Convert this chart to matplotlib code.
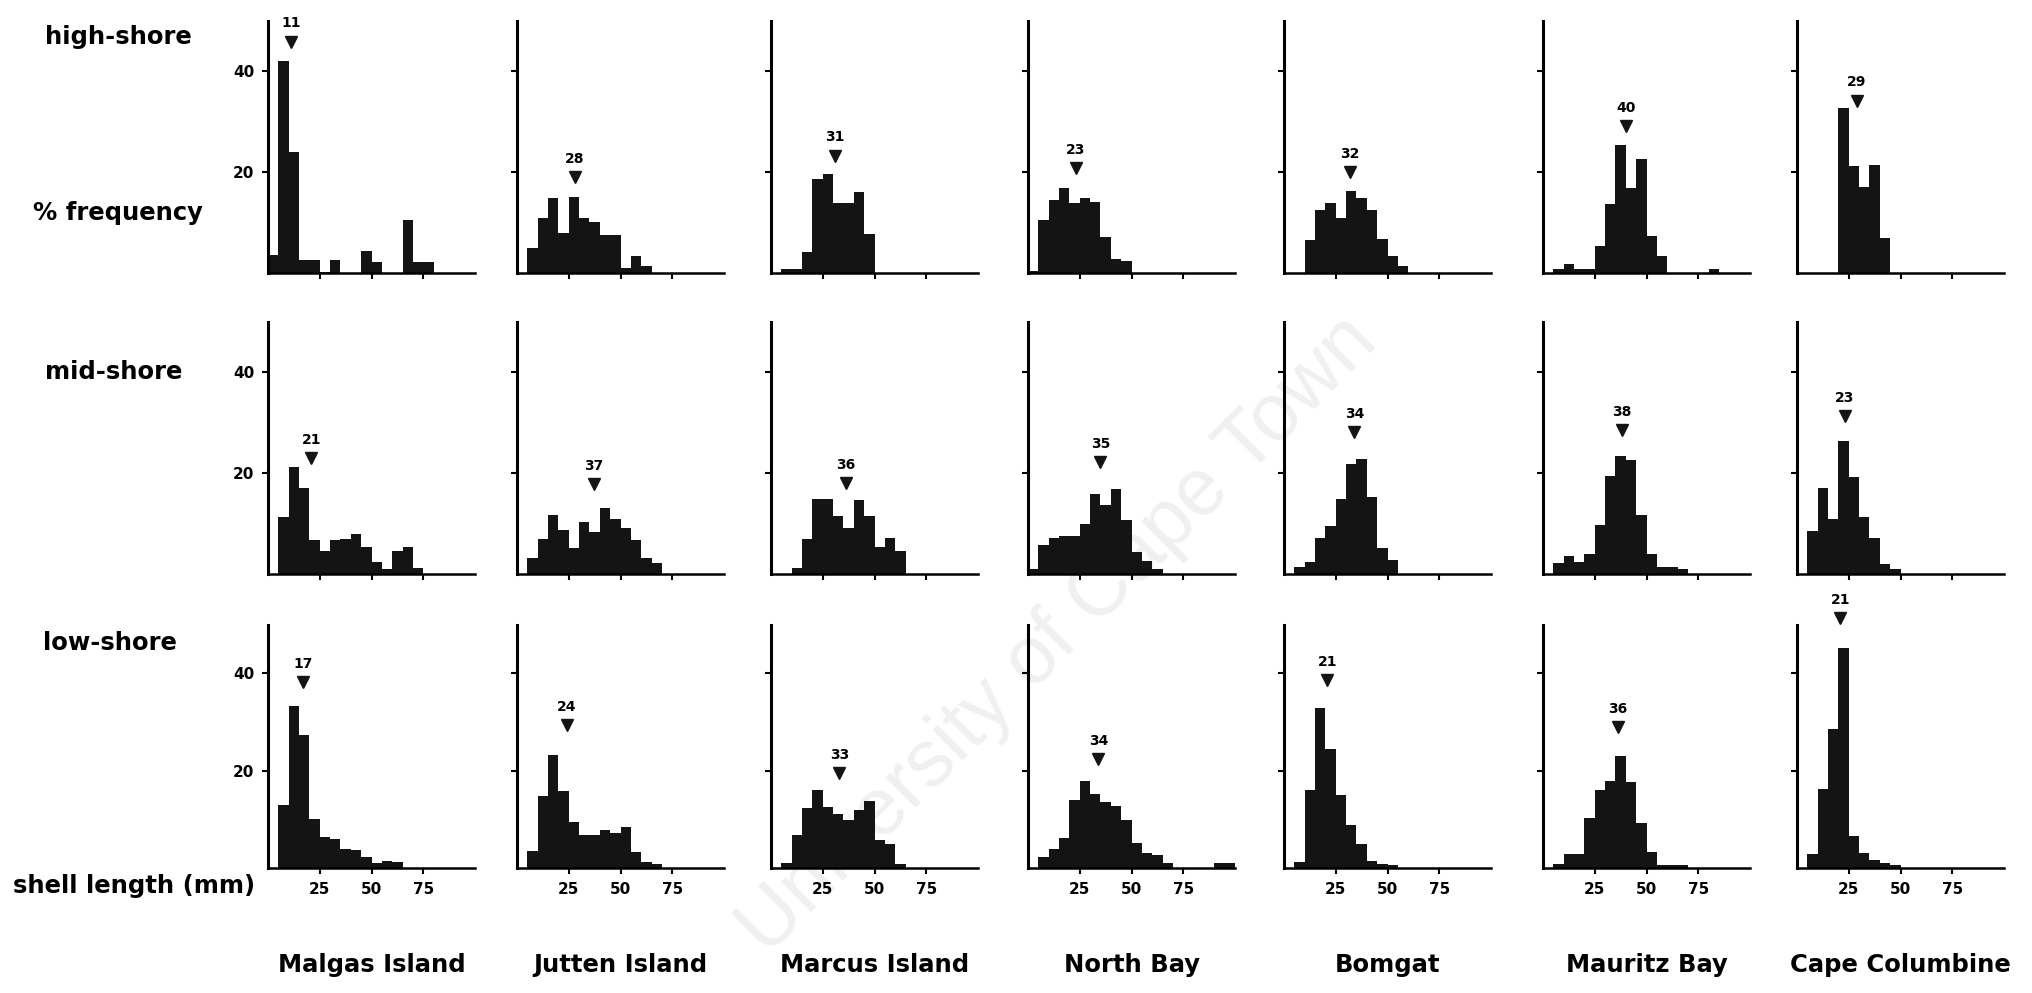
import numpy as np
import matplotlib.pyplot as plt

# Size-frequency distributions of shell length, 5 mm size classes
sites = ['Malgas Island', 'Jutten Island', 'Marcus Island', 'North Bay',
         'Bomgat', 'Mauritz Bay', 'Cape Columbine']
zones = ['high-shore', 'mid-shore', 'low-shore']
bin_left = np.arange(0, 100, 5)

# % frequency per size class, one list per site (Malgas ... Cape Columbine)
high_shore = [
    [3.5, 42, 24, 2.5, 2.5, 0.3, 2.5, 0, 0, 4.4, 2.2, 0, 0, 10.5, 2.2, 2.2, 0, 0, 0, 0],
    [0, 4.9, 10.9, 14.8, 7.9, 15.1, 10.9, 10.2, 7.6, 7.6, 1.1, 3.4, 1.4, 0, 0, 0, 0, 0, 0, 0],
    [0, 0.9, 0.9, 4.1, 18.7, 19.7, 13.9, 13.9, 16.0, 7.7, 0, 0, 0, 0, 0, 0, 0, 0, 0, 0],
    [0.5, 10.6, 14.5, 16.9, 13.9, 14.9, 14.1, 7.1, 2.8, 2.4, 0, 0, 0, 0, 0, 0, 0, 0, 0, 0],
    [0, 0, 6.6, 12.5, 13.9, 10.9, 16.3, 14.8, 12.6, 6.7, 3.3, 1.4, 0, 0, 0, 0, 0, 0, 0, 0],
    [0, 0.8, 1.7, 0.8, 0.8, 5.4, 13.6, 25.4, 16.9, 22.7, 7.4, 3.3, 0, 0, 0, 0, 0.8, 0, 0, 0],
    [0, 0, 0, 0, 32.7, 21.3, 17.0, 21.5, 7.0, 0, 0, 0, 0, 0, 0, 0, 0, 0, 0, 0],
]
mid_shore = [
    [0, 11.3, 21.2, 17.0, 6.7, 4.5, 6.7, 6.9, 7.9, 5.3, 2.3, 1.0, 4.6, 5.3, 1.1, 0, 0, 0, 0, 0],
    [0, 3.1, 7.0, 11.6, 8.7, 5.1, 10.3, 8.4, 13.0, 10.8, 9.2, 6.8, 3.2, 2.2, 0, 0, 0, 0, 0, 0],
    [0, 0, 1.1, 7.0, 14.9, 14.9, 11.4, 9.2, 14.7, 11.5, 5.3, 7.2, 4.6, 0, 0, 0, 0, 0, 0, 0],
    [0.9, 5.7, 7.2, 7.6, 7.6, 9.9, 15.8, 13.6, 16.8, 10.7, 4.3, 2.5, 1.0, 0, 0, 0, 0, 0, 0, 0],
    [0, 1.3, 2.3, 7.2, 9.6, 14.9, 21.7, 22.7, 15.2, 5.2, 2.8, 0, 0, 0, 0, 0, 0, 0, 0, 0],
    [0, 2.2, 3.6, 2.3, 4.0, 9.7, 19.4, 23.4, 22.5, 11.7, 4.0, 1.3, 1.3, 0.9, 0, 0, 0, 0, 0, 0],
    [0, 8.6, 17.1, 10.8, 26.4, 19.2, 11.3, 7.2, 1.9, 0.9, 0, 0, 0, 0, 0, 0, 0, 0, 0, 0],
]
low_shore = [
    [0, 12.9, 33.2, 27.4, 10.1, 6.3, 5.9, 3.8, 3.6, 2.2, 1.0, 1.5, 1.3, 0, 0, 0, 0, 0, 0, 0],
    [0, 3.4, 14.8, 23.3, 15.9, 9.4, 6.7, 6.7, 7.8, 7.2, 8.3, 3.2, 1.2, 0.8, 0, 0, 0, 0, 0, 0],
    [0, 1.1, 6.8, 12.4, 16.1, 12.6, 11.0, 9.9, 11.9, 13.8, 5.7, 5.0, 0.7, 0, 0, 0, 0, 0, 0, 0],
    [0, 2.3, 3.9, 6.2, 13.9, 17.9, 15.2, 13.6, 12.7, 9.8, 5.1, 3.0, 2.6, 1.0, 0, 0, 0, 0, 1.0, 1.0],
    [0, 1.2, 16.1, 32.8, 24.5, 15.0, 8.8, 5.0, 1.4, 0.9, 0.6, 0, 0, 0, 0, 0, 0, 0, 0, 0],
    [0, 0.8, 2.8, 2.8, 10.2, 16.1, 17.9, 23.0, 17.6, 9.3, 3.3, 0.6, 0.6, 0.6, 0, 0, 0, 0, 0, 0],
    [0, 2.8, 16.3, 28.5, 45.2, 6.6, 3.0, 1.6, 1.0, 0.6, 0, 0, 0, 0, 0, 0, 0, 0, 0, 0],
]

# modal shell length (mm) and the height at which its arrow is drawn
high_modes = [11, 28, 31, 23, 32, 40, 29]
mid_modes = [21, 37, 36, 35, 34, 38, 23]
low_modes = [17, 24, 33, 34, 21, 36, 21]
high_arrow = [45.9, 19.0, 23.3, 20.9, 20.0, 29.2, 34.2]
mid_arrow = [23.0, 17.8, 18.1, 22.2, 28.1, 28.5, 31.3]
low_arrow = [38.1, 29.4, 19.5, 22.3, 38.6, 29.0, 51.4]

rows = [(high_shore, high_modes, high_arrow),
        (mid_shore, mid_modes, mid_arrow),
        (low_shore, low_modes, low_arrow)]

fig = plt.figure(figsize=(20.32, 9.93), dpi=100)

# faint watermark of the scanned thesis, behind the panels
fig.text(0.521, 0.36, 'University of Cape Town', fontsize=58, color='#f0f0f0',
         rotation=45, ha='center', va='center', family='Liberation Sans', zorder=-1)

col_px = [268, 517, 771, 1028, 1284, 1543, 1797]
row_bottom = [0.725, 0.422, 0.126]
row_height = [0.254, 0.254, 0.245]
ax_width = 207 / 2032

for r, (values, modes, arrows) in enumerate(rows):
    for c in range(len(sites)):
        ax = fig.add_axes([col_px[c] / 2032, row_bottom[r], ax_width, row_height[r]])
        ax.set_facecolor('none')
        ax.bar(bin_left, values[c], width=5, align='edge', color='#141414', linewidth=0)
        ax.plot(modes[c], arrows[c], marker='v', color='#141414', markersize=8,
                clip_on=False, linestyle='none')
        ax.annotate(str(modes[c]), xy=(modes[c], arrows[c]), xytext=(0, 8),
                    textcoords='offset points', ha='center', va='bottom',
                    fontsize=10, fontweight='bold', annotation_clip=False)
        ax.set_xlim(0, 100)
        ax.set_ylim(0, 50)
        for side in ['top', 'right']:
            ax.spines[side].set_visible(False)
        ax.spines['left'].set_linewidth(2.2)
        ax.spines['bottom'].set_linewidth(1.8)
        ax.set_xticks([25, 50, 75])
        ax.set_yticks([20, 40])
        ax.tick_params(axis='both', length=4, width=1.5, pad=6)
        if r == 2:
            ax.set_xticklabels(['25', '50', '75'], fontsize=11, fontweight='bold')
        else:
            ax.set_xticklabels([])
        if c == 0:
            ax.set_yticklabels(['20', '40'], fontsize=11, fontweight='bold')
        else:
            ax.set_yticklabels([])

label_kw = dict(fontsize=17.5, fontweight='bold', ha='left', va='center')
fig.text(0.022, 0.963, zones[0], **label_kw)
fig.text(0.016, 0.785, '% frequency', **label_kw)
fig.text(0.022, 0.625, zones[1], **label_kw)
fig.text(0.021, 0.352, zones[2], **label_kw)
fig.text(0.0064, 0.108, 'shell length (mm)', **label_kw)

for c, site in enumerate(sites):
    fig.text(col_px[c] / 2032 + ax_width / 2, 0.028, site, fontsize=17.5,
             fontweight='bold', ha='center', va='center')

plt.savefig('out.png', dpi=100)
